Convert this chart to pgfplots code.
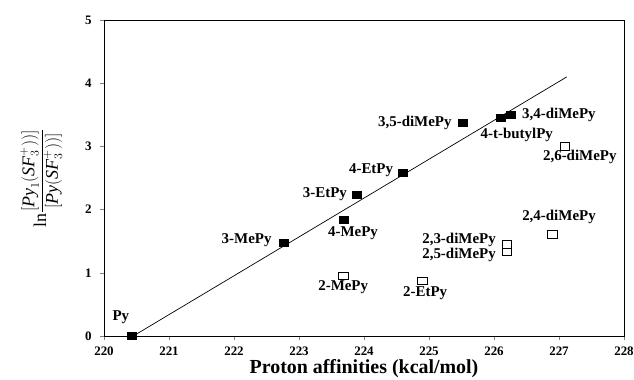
\documentclass[border=0pt]{standalone}
\usepackage{pgfplots}
\pgfplotsset{compat=1.18}
\usepackage{fontspec}
\setmainfont{Liberation Serif}
\begin{document}
\begin{tikzpicture}
\begin{axis}[name=ax, scale only axis, width=520bp, height=316bp,
 xmin=220, xmax=228, ymin=0, ymax=5,
 xtick={220,221,222,223,224,225,226,227,228}, ytick={0,1,2,3,4,5},
 tick align=outside, tick pos=left, major tick length=4bp,
 /pgf/number format/set thousands separator={},
 xticklabel={\textbf{\pgfmathprintnumber[assume math mode=true]{\tick}}},
 yticklabel={\textbf{\pgfmathprintnumber[assume math mode=true]{\tick}}},
 xticklabel style={font=\fontsize{13}{13}\selectfont\bfseries, yshift=-3bp},
 yticklabel style={font=\fontsize{13}{13}\selectfont\bfseries, xshift=-5bp},
 xlabel={Proton affinities (kcal/mol)},
 xlabel style={font=\fontsize{20}{21}\selectfont\bfseries, yshift=3bp},
 ylabel={$\textrm{ln}\displaystyle\frac{[\textit{Py}_{1}(\textit{SF}^{+}_{3}))]}{[\textit{Py}(\textit{SF}^{+}_{3}))]}$},
 ylabel style={font=\fontsize{18}{19}\selectfont, yshift=16bp},
 axis line style={line width=0.9pt},
 clip=false]
% regression line
\addplot[black, line width=0.7pt, no marks] coordinates {(220.45,0) (227.12,4.1)};
% filled squares (meta/para-substituted)
\addplot[only marks, mark=square*, mark size=3.6pt, mark options={xscale=1.25, fill=black, draw=black}] coordinates {
 (220.42,0.0) (222.77,1.47) (223.89,2.23) (223.69,1.84) (224.6,2.59)
 (225.52,3.37) (226.1,3.46) (226.25,3.50)
};
% open squares (ortho-substituted)
\addplot[only marks, mark=square, mark size=3.8pt, mark options={xscale=1.25, fill=white, draw=black, line width=0.7pt}] coordinates {
 (227.09,3.0) (226.9,1.61) (226.2,1.45) (226.2,1.33) (223.68,0.95) (224.9,0.87)
};
\begin{scope}[every node/.style={font=\fontsize{15}{15}\selectfont\bfseries, inner sep=0pt}]
\node at (axis cs:220.26,0.30) {Py};
\node[anchor=east] at (axis cs:222.58,1.52) {3-MePy};
\node[anchor=east] at (axis cs:223.74,2.25) {3-EtPy};
\node at (axis cs:223.83,1.63) {4-MePy};
\node[anchor=east] at (axis cs:224.45,2.63) {4-EtPy};
\node[anchor=east] at (axis cs:225.35,3.37) {3,5-diMePy};
\node at (axis cs:226.35,3.18) {4-t-butylPy};
\node[anchor=west] at (axis cs:226.43,3.50) {3,4-diMePy};
\node at (axis cs:227.32,2.83) {2,6-diMePy};
\node at (axis cs:227.0,1.88) {2,4-diMePy};
\node[anchor=east] at (axis cs:226.03,1.52) {2,3-diMePy};
\node[anchor=east] at (axis cs:226.03,1.28) {2,5-diMePy};
\node at (axis cs:223.68,0.78) {2-MePy};
\node at (axis cs:224.94,0.68) {2-EtPy};
\end{scope}
\end{axis}
\pgfresetboundingbox
\path ([xshift=-104bp,yshift=-44bp]ax.south west) rectangle ([xshift=10bp,yshift=20bp]ax.north east);
\end{tikzpicture}
\end{document}
